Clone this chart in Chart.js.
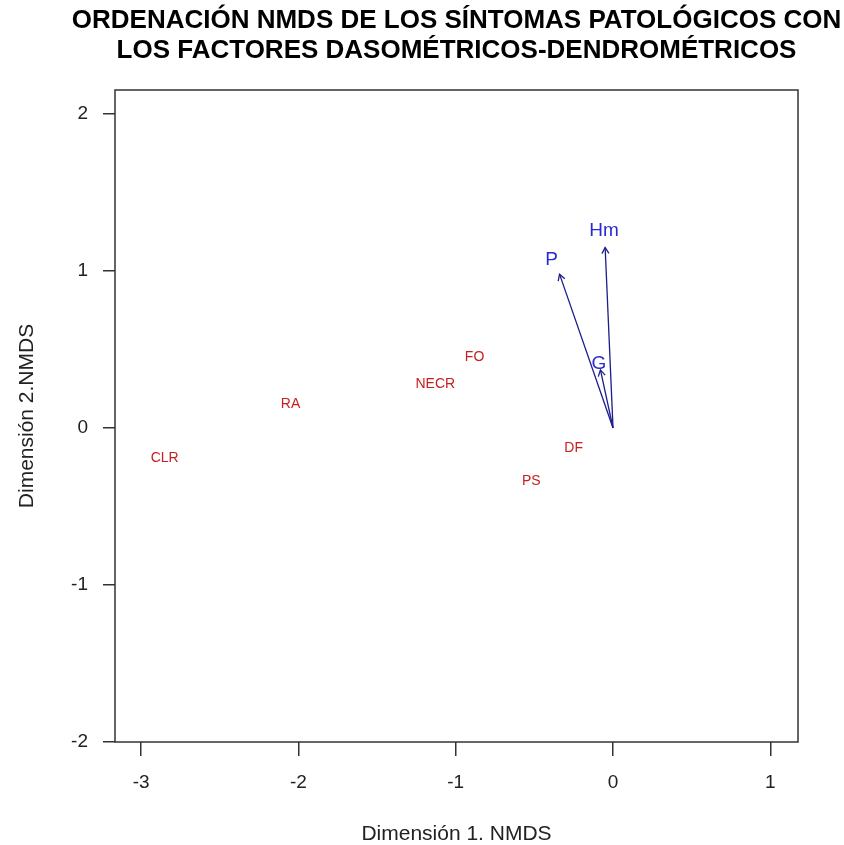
<!DOCTYPE html>
<html><head><meta charset="utf-8">
<script src="https://cdn.jsdelivr.net/npm/chart.js@4"></script>
<style>html,body{margin:0;padding:0;background:#fff}</style>
</head><body>
<canvas id="c" width="844" height="845" style="display:block;width:844px;height:845px"></canvas>
<script>
const titleLines = ['ORDENACIÓN NMDS DE LOS SÍNTOMAS PATOLÓGICOS CON', 'LOS FACTORES DASOMÉTRICOS-DENDROMÉTRICOS'];
const xAxisTitle = 'Dimensión 1. NMDS';
const yAxisTitle = 'Dimensión 2.NMDS';
const xTicks = [-3, -2, -1, 0, 1];
const yTicks = [-2, -1, 0, 1, 2];

// symptom scores (red labels)
const symptoms = ['CLR', 'RA', 'NECR', 'FO', 'DF', 'PS'];
const symX = [-2.85, -2.05, -1.13, -0.88, -0.25, -0.52];
const symY = [-0.19, 0.15, 0.28, 0.45, -0.13, -0.34];

// fitted factor vectors (blue arrows)
const factors = ['P', 'Hm', 'G'];
const factX = [-0.34, -0.05, -0.08];
const factY = [0.98, 1.15, 0.37];
const factLabelX = [-0.39, -0.057, -0.09];
const factLabelY = [1.07, 1.255, 0.41];

const FONT = '"Liberation Sans", Arial, Helvetica, sans-serif';
Chart.defaults.font.family = FONT;
const arrowColor = '#1c1c8e';
const symColor = '#c62020';
const factColor = '#2a2ad0';

const arrowSets = factors.map((f, i) => ({
  label: f,
  data: [{x: 0, y: 0}, {x: factX[i], y: factY[i]}],
  showLine: true,
  borderColor: arrowColor,
  borderWidth: 1.3,
  pointRadius: 0,
  fill: false
}));

const overlay = {
  id: 'overlay',
  afterDatasetsDraw(chart) {
    const {ctx, chartArea: a, scales: {x, y}} = chart;
    ctx.save();
    const x0 = x.getPixelForValue(0), y0 = y.getPixelForValue(0);
    factX.forEach((fx, i) => {
      const x1 = x.getPixelForValue(fx), y1 = y.getPixelForValue(factY[i]);
      const ang = Math.atan2(y1 - y0, x1 - x0);
      const L = 7, s = Math.PI / 6;
      ctx.beginPath();
      ctx.moveTo(x1 - L * Math.cos(ang - s), y1 - L * Math.sin(ang - s));
      ctx.lineTo(x1, y1);
      ctx.lineTo(x1 - L * Math.cos(ang + s), y1 - L * Math.sin(ang + s));
      ctx.strokeStyle = arrowColor; ctx.lineWidth = 1.3; ctx.stroke();
    });
    ctx.textAlign = 'center';
    ctx.textBaseline = 'middle';
    ctx.fillStyle = symColor;
    ctx.font = '14px ' + FONT;
    symptoms.forEach((s, i) => {
      ctx.fillText(s, x.getPixelForValue(symX[i]), y.getPixelForValue(symY[i]));
    });
    ctx.fillStyle = factColor;
    ctx.font = '19px ' + FONT;
    factors.forEach((f, i) => {
      ctx.fillText(f, x.getPixelForValue(factLabelX[i]), y.getPixelForValue(factLabelY[i]));
    });
    ctx.strokeStyle = '#333';
    ctx.lineWidth = 1.5;
    ctx.strokeRect(a.left, a.top, a.right - a.left, a.bottom - a.top);
    ctx.restore();
  },
  afterDraw(chart) {
    const {ctx, chartArea: a} = chart;
    ctx.save();
    ctx.fillStyle = '#000';
    ctx.font = 'bold 26px ' + FONT;
    ctx.textAlign = 'center';
    ctx.textBaseline = 'middle';
    const cx = (a.left + a.right) / 2;
    ctx.fillText(titleLines[0], cx, 21);
    ctx.fillText(titleLines[1], cx, 51);
    ctx.restore();
  }
};

new Chart(document.getElementById('c'), {
  type: 'scatter',
  data: {
    datasets: [
      {label: 'síntomas', data: symX.map((v, i) => ({x: v, y: symY[i]})), pointRadius: 0, showLine: false},
      ...arrowSets
    ]
  },
  options: {
    responsive: false,
    animation: false,
    devicePixelRatio: 1,
    layout: {padding: {top: 90, right: 46, left: 0, bottom: 0}},
    plugins: {legend: {display: false}, title: {display: false}, tooltip: {enabled: false}},
    scales: {
      x: {
        type: 'linear', min: -3.166, max: 1.176,
        afterBuildTicks: s => { s.ticks = xTicks.map(v => ({value: v})); },
        afterFit: s => { s.height = 103; },
        grid: {drawOnChartArea: false, drawTicks: true, tickLength: 14, color: '#333', lineWidth: 1.5},
        border: {display: false},
        ticks: {font: {size: 19}, color: '#222', padding: 15, maxRotation: 0, callback: v => String(v)},
        title: {display: true, text: xAxisTitle, font: {size: 21}, color: '#222', padding: {top: 0, bottom: -2}}
      },
      y: {
        type: 'linear', min: -2, max: 2.153,
        afterBuildTicks: s => { s.ticks = yTicks.map(v => ({value: v})); },
        afterFit: s => { s.width = 115; },
        grid: {drawOnChartArea: false, drawTicks: true, tickLength: 12, color: '#333', lineWidth: 1.5},
        border: {display: false},
        ticks: {font: {size: 19}, color: '#222', padding: 15, callback: v => String(v)},
        title: {display: true, text: yAxisTitle, font: {size: 21}, color: '#222', padding: {top: 15, bottom: 0}}
      }
    }
  },
  plugins: [overlay]
});
</script>
</body></html>
